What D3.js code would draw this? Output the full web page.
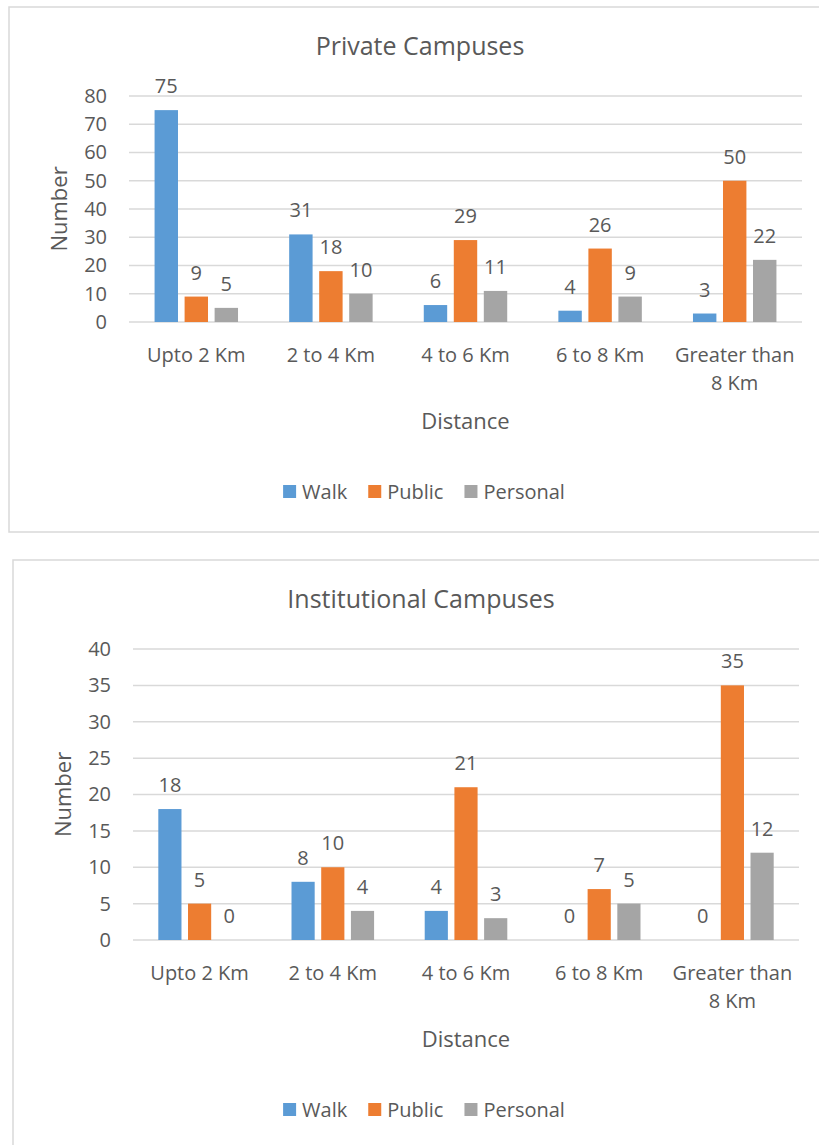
<!DOCTYPE html>
<html>
<head>
<meta charset="utf-8">
<script src="https://cdn.jsdelivr.net/npm/d3@7"></script>
<style>
  html, body { margin: 0; padding: 0; background: #ffffff; }
  svg { display: block; }
  text { font-family: "Open Sans", "Noto Sans", sans-serif; fill: #595959; }
</style>
</head>
<body>
<svg id="chart" width="819" height="1145"></svg>
<script>
// Distance bands (second label line used for wrapping)
const categories = [["Upto 2 Km"], ["2 to 4 Km"], ["4 to 6 Km"], ["6 to 8 Km"], ["Greater than", "8 Km"]];
const seriesNames = ["Walk", "Public", "Personal"];
const seriesColors = ["#5B9BD5", "#ED7D31", "#A5A5A5"];

// Private campuses: counts per distance band
const privateWalk = [75, 31, 6, 4, 3];
const privatePublic = [9, 18, 29, 26, 50];
const privatePersonal = [5, 10, 11, 9, 22];
const privateTicks = [0, 10, 20, 30, 40, 50, 60, 70, 80];

// Institutional campuses: counts per distance band
const instWalk = [18, 8, 4, 0, 0];
const instPublic = [5, 10, 21, 7, 35];
const instPersonal = [0, 4, 3, 5, 12];
const instTicks = [0, 5, 10, 15, 20, 25, 30, 35, 40];

const svg = d3.select("#chart");

function drawChart(opts) {
  const { title, series, ticks, frame, plot } = opts;
  const g = svg.append("g");

  // outer frame
  g.append("rect")
    .attr("x", frame.x).attr("y", frame.y)
    .attr("width", frame.w).attr("height", frame.h)
    .attr("fill", "#fff").attr("stroke", "#D9D9D9").attr("stroke-width", 1.5);

  const y = d3.scaleLinear()
    .domain([0, d3.max(ticks)])
    .range([plot.bottom, plot.top]);

  const x0 = d3.scaleBand()
    .domain(d3.range(categories.length))
    .range([plot.left, plot.right])
    .paddingInner(0.38)
    .paddingOuter(0.19);

  const x1 = d3.scaleBand()
    .domain(d3.range(seriesNames.length))
    .range([0, x0.bandwidth()])
    .paddingInner(0.22);

  // gridlines
  g.append("g")
    .selectAll("line")
    .data(ticks)
    .join("line")
    .attr("x1", plot.left).attr("x2", plot.right)
    .attr("y1", d => y(d)).attr("y2", d => y(d))
    .attr("stroke", "#D9D9D9").attr("stroke-width", 1.5);

  // y axis tick labels
  const yAxis = d3.axisLeft(y).tickValues(ticks).tickSize(0).tickPadding(22);
  const ya = g.append("g")
    .attr("transform", `translate(${plot.left},0)`)
    .call(yAxis);
  ya.select(".domain").remove();
  ya.selectAll("text")
    .style("font-size", "20px")
    .style("font-family", "'Open Sans', sans-serif")
    .attr("fill", "#595959");

  // bars
  const groups = g.append("g")
    .selectAll("g")
    .data(categories.map((c, i) => i))
    .join("g")
    .attr("transform", i => `translate(${x0(i)},0)`);

  groups.selectAll("rect")
    .data(i => series.map((s, k) => ({ k, v: s[i] })))
    .join("rect")
    .attr("x", d => x1(d.k))
    .attr("width", x1.bandwidth())
    .attr("y", d => y(d.v))
    .attr("height", d => y(0) - y(d.v))
    .attr("fill", d => seriesColors[d.k]);

  // data labels
  groups.selectAll("text")
    .data(i => series.map((s, k) => ({ k, v: s[i] })))
    .join("text")
    .attr("x", d => x1(d.k) + x1.bandwidth() / 2)
    .attr("y", d => y(d.v) - 17)
    .attr("text-anchor", "middle")
    .style("font-size", "20px")
    .text(d => d.v);

  // category labels
  const catText = g.append("g")
    .selectAll("text")
    .data(categories)
    .join("text")
    .attr("x", (c, i) => x0(i) + x0.bandwidth() / 2)
    .attr("y", plot.bottom + 40)
    .attr("text-anchor", "middle")
    .style("font-size", "20px");
  catText.selectAll("tspan")
    .data(c => c)
    .join("tspan")
    .attr("x", function () { return d3.select(this.parentNode).attr("x"); })
    .attr("dy", (d, j) => j === 0 ? 0 : 28)
    .text(d => d);

  // chart title
  g.append("text")
    .attr("x", opts.titleX)
    .attr("y", plot.top - 41)
    .attr("text-anchor", "middle")
    .style("font-size", "25px")
    .text(title);

  // axis titles
  g.append("text")
    .attr("x", (plot.left + plot.right) / 2)
    .attr("y", plot.bottom + 107)
    .attr("text-anchor", "middle")
    .style("font-size", "22px")
    .text("Distance");

  g.append("text")
    .attr("transform", `translate(${plot.left - 62},${(plot.top + plot.bottom) / 2}) rotate(-90)`)
    .attr("text-anchor", "middle")
    .style("font-size", "22px")
    .text("Number");

  // legend
  const leg = g.append("g").attr("transform", `translate(0,${plot.bottom + 170})`);
  const items = leg.selectAll("g")
    .data(seriesNames)
    .join("g");
  items.append("rect")
    .attr("width", 13).attr("height", 13)
    .attr("y", -7)
    .attr("fill", (d, i) => seriesColors[i]);
  items.append("text")
    .attr("x", 19)
    .attr("y", 7)
    .style("font-size", "20px")
    .text(d => d);
  let widths = [];
  items.each(function () {
    widths.push(19 + d3.select(this).select("text").node().getComputedTextLength());
  });
  const gap = 21;
  const total = d3.sum(widths) + gap * (widths.length - 1);
  let cx = opts.legendX - total / 2;
  items.attr("transform", (d, i) => {
    const t = `translate(${cx},0)`;
    cx += widths[i] + gap;
    return t;
  });
}

drawChart({
  title: "Private Campuses",
  series: [privateWalk, privatePublic, privatePersonal],
  ticks: privateTicks,
  frame: { x: 9, y: 7, w: 830, h: 525 },
  plot: { left: 129, right: 802, top: 96, bottom: 322 },
  titleX: 420,
  legendX: 424
});

drawChart({
  title: "Institutional Campuses",
  series: [instWalk, instPublic, instPersonal],
  ticks: instTicks,
  frame: { x: 13, y: 560, w: 830, h: 600 },
  plot: { left: 133, right: 799, top: 649, bottom: 940 },
  titleX: 421,
  legendX: 424
});
</script>
</body>
</html>
